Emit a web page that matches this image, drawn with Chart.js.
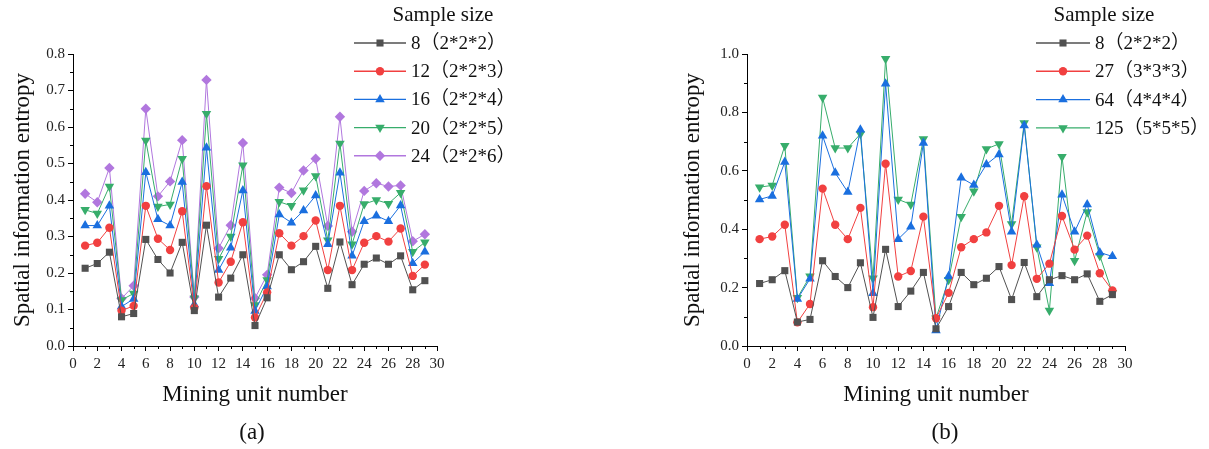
<!DOCTYPE html>
<html><head><meta charset="utf-8">
<script src="https://cdn.jsdelivr.net/npm/chart.js@4.4.1/dist/chart.umd.min.js"></script>
<style>
html,body{margin:0;padding:0;background:#fff;}
#wrap{position:relative;width:1209px;height:449px;overflow:hidden;}
#ca{position:absolute;left:0;top:0;}
#cb{position:absolute;left:620px;top:0;}
</style></head><body>
<div id="wrap">
<canvas id="ca" width="620" height="449"></canvas>
<canvas id="cb" width="589" height="449"></canvas>
</div>
<script>
// ---------- data ----------
const units = [1,2,3,4,5,6,7,8,9,10,11,12,13,14,15,16,17,18,19,20,21,22,23,24,25,26,27,28,29];

const labelsA = ['8\uFF082*2*2\uFF09','12\uFF082*2*3\uFF09','16\uFF082*2*4\uFF09','20\uFF082*2*5\uFF09','24\uFF082*2*6\uFF09'];
const a8  = [0.213,0.226,0.257,0.080,0.089,0.292,0.237,0.200,0.284,0.097,0.331,0.134,0.186,0.250,0.056,0.132,0.250,0.209,0.231,0.273,0.158,0.285,0.168,0.224,0.241,0.224,0.247,0.154,0.179];
const a12 = [0.275,0.283,0.324,0.097,0.110,0.384,0.294,0.263,0.369,0.105,0.438,0.174,0.231,0.339,0.078,0.147,0.309,0.275,0.301,0.344,0.208,0.384,0.208,0.283,0.301,0.286,0.322,0.192,0.223];
const a16 = [0.330,0.330,0.384,0.108,0.129,0.476,0.347,0.330,0.449,0.114,0.543,0.208,0.269,0.426,0.096,0.163,0.360,0.338,0.371,0.412,0.279,0.475,0.247,0.342,0.357,0.342,0.385,0.227,0.258];
const a20 = [0.373,0.363,0.437,0.126,0.144,0.563,0.382,0.388,0.513,0.131,0.636,0.239,0.300,0.495,0.112,0.181,0.395,0.384,0.427,0.466,0.290,0.555,0.279,0.389,0.400,0.390,0.420,0.258,0.284];
const a24 = [0.417,0.394,0.488,0.130,0.165,0.650,0.410,0.451,0.564,0.134,0.729,0.268,0.331,0.556,0.131,0.195,0.434,0.419,0.481,0.513,0.329,0.628,0.313,0.425,0.446,0.437,0.440,0.287,0.306];

const labelsB = ['8\uFF082*2*2\uFF09','27\uFF083*3*3\uFF09','64\uFF084*4*4\uFF09','125\uFF085*5*5\uFF09'];
const b8   = [0.214,0.227,0.258,0.082,0.091,0.292,0.238,0.200,0.285,0.098,0.331,0.135,0.188,0.252,0.059,0.135,0.252,0.210,0.232,0.272,0.159,0.286,0.169,0.227,0.241,0.227,0.247,0.153,0.176];
const b27  = [0.366,0.375,0.415,0.081,0.144,0.539,0.415,0.366,0.473,0.133,0.624,0.238,0.257,0.443,0.095,0.182,0.338,0.366,0.389,0.480,0.277,0.513,0.230,0.282,0.445,0.330,0.378,0.249,0.190];
const b64  = [0.502,0.514,0.630,0.161,0.230,0.720,0.593,0.527,0.741,0.181,0.898,0.366,0.408,0.695,0.053,0.239,0.576,0.551,0.622,0.656,0.391,0.755,0.347,0.215,0.518,0.391,0.485,0.320,0.307];
const b125 = [0.544,0.550,0.686,0.165,0.239,0.851,0.678,0.678,0.726,0.232,0.984,0.502,0.485,0.709,0.095,0.227,0.443,0.530,0.675,0.692,0.418,0.764,0.338,0.122,0.648,0.292,0.459,0.309,0.182];

const xTickLabels = ['0','2','4','6','8','10','12','14','16','18','20','22','24','26','28','30'];
const yTickLabelsA = ['0.0','0.1','0.2','0.3','0.4','0.5','0.6','0.7','0.8'];
const yTickLabelsB = ['0.0','0.2','0.4','0.6','0.8','1.0'];

const legendTitle = 'Sample size';
const xTitle = 'Mining unit number';
const yTitle = 'Spatial information entropy';

// ---------- styling ----------
const COLORS = ['#515151','#F14040','#1A6FDF','#37AD6B','#B177DE'];
const SERIF = "'Liberation Serif', 'Noto Sans CJK SC', serif";
Chart.defaults.font.family = SERIF;
Chart.defaults.color = '#222';

const STYLES = [
  {pointStyle:'rect', rot:0, r:5},
  {pointStyle:'circle', rot:0, r:4.2},
  {pointStyle:'triangle', rot:0, r:5.5},
  {pointStyle:'triangle', rot:180, r:5.5},
  {pointStyle:'rectRot', rot:0, r:5.2}
];

function mkDataset(label, vals, idx){
  const c = COLORS[idx], s = STYLES[idx];
  return {
    label, data: units.map((u,i)=>({x:u, y:vals[i]})),
    borderColor:c, backgroundColor:c, pointBackgroundColor:c, pointBorderColor:c,
    pointStyle:s.pointStyle, pointRotation:s.rot, pointRadius:s.r, pointHoverRadius:s.r,
    pointBorderWidth:0, borderWidth:1, tension:0
  };
}

const extras = {
  id:'extras',
  afterDraw(chart, args, o){
    const ctx = chart.ctx, xs = chart.scales.x, ys = chart.scales.y;
    ctx.save();
    ctx.strokeStyle = '#000'; ctx.lineWidth = 1;
    // minor ticks
    ctx.beginPath();
    for (const v of o.xMinor){
      const px = Math.round(xs.getPixelForValue(v)) + 0.5;
      ctx.moveTo(px, xs.top); ctx.lineTo(px, xs.top + 3);
    }
    for (const v of o.yMinor){
      const py = Math.round(ys.getPixelForValue(v)) + 0.5;
      ctx.moveTo(ys.right, py); ctx.lineTo(ys.right - 3, py);
    }
    ctx.stroke();
    // legend
    const L = o.legend;
    ctx.fillStyle = '#111';
    ctx.textBaseline = 'middle';
    ctx.textAlign = 'center';
    ctx.font = "21px " + SERIF;
    ctx.fillText(legendTitle, L.titleX, L.titleY);
    ctx.textAlign = 'left';
    ctx.font = "19px " + SERIF;
    chart.data.datasets.forEach((ds, i) => {
      const y = L.y0 + i * L.dy;
      ctx.strokeStyle = ds.borderColor; ctx.lineWidth = 1.4;
      ctx.beginPath(); ctx.moveTo(L.x1, y); ctx.lineTo(L.x2, y); ctx.stroke();
      ctx.fillStyle = ds.pointBackgroundColor; ctx.strokeStyle = ds.pointBorderColor;
      Chart.helpers.drawPoint(ctx, {pointStyle: ds.pointStyle, rotation: ds.pointRotation, radius: ds.pointRadius, borderWidth: 0}, (L.x1 + L.x2) / 2, y);
      ctx.fillStyle = '#111';
      ctx.fillText(ds.label, L.textX, y + 1);
    });
    // panel label
    ctx.textAlign = 'center';
    ctx.font = "23px " + SERIF;
    ctx.fillText(o.panel.text, o.panel.x, o.panel.y);
    ctx.restore();
  }
};

function buildChart(canvas, datasets, cfg){
  return new Chart(canvas, {
    type:'line',
    data:{datasets},
    plugins:[extras],
    options:{
      responsive:false, animation:false, events:[],
      layout:{padding:{left:0, right:cfg.padRight, top:54, bottom:0}},
      plugins:{legend:{display:false}, tooltip:{enabled:false}, extras:cfg.extras},
      scales:{
        x:{
          type:'linear', min:0, max:30,
          afterFit:(s)=>{ s.height = 103; },
          afterBuildTicks:(s)=>{ s.ticks = xTickLabels.map(t=>({value:Number(t)})); },
          ticks:{autoSkip:false, maxRotation:0, padding:4, font:{size:15}, color:'#222',
                 callback:(v)=>xTickLabels.find(t=>Number(t)===v) ?? ''},
          grid:{drawOnChartArea:false, drawTicks:true, tickLength:5, tickColor:'#000', color:'#000'},
          border:{display:true, color:'#000', width:1},
          title:{display:true, text:xTitle, font:{size:23}, color:'#111', padding:{top:0, bottom:40}}
        },
        y:{
          type:'linear', min:0, max:cfg.yMax,
          afterFit:(s)=>{ s.width = cfg.yWidth; },
          afterBuildTicks:(s)=>{ s.ticks = cfg.yLabels.map(t=>({value:Number(t)})); },
          ticks:{autoSkip:false, padding:3, font:{size:15}, color:'#222',
                 callback:(v)=>cfg.yLabels.find(t=>Math.abs(Number(t)-v)<1e-9) ?? ''},
          grid:{drawOnChartArea:false, drawTicks:true, tickLength:5, tickColor:'#000', color:'#000'},
          border:{display:true, color:'#000', width:1},
          title:{display:true, text:yTitle, font:{size:23}, color:'#111', padding:{top:cfg.yTitlePad, bottom:0}}
        }
      }
    }
  });
}

const xMinor = [1,3,5,7,9,11,13,15,17,19,21,23,25,27,29];

buildChart(document.getElementById('ca'),
  [mkDataset(labelsA[0],a8,0), mkDataset(labelsA[1],a12,1), mkDataset(labelsA[2],a16,2), mkDataset(labelsA[3],a20,3), mkDataset(labelsA[4],a24,4)],
  {padRight:620-437, yMax:0.8, yWidth:73, yLabels:yTickLabelsA, yTitlePad:9,
   extras:{xMinor, yMinor:[0.05,0.15,0.25,0.35,0.45,0.55,0.65,0.75],
     legend:{x1:354, x2:406, textX:411, y0:43, dy:28.2, titleX:443, titleY:15},
     panel:{text:'(a)', x:252, y:433}}});

buildChart(document.getElementById('cb'),
  [mkDataset(labelsB[0],b8,0), mkDataset(labelsB[1],b27,1), mkDataset(labelsB[2],b64,2), mkDataset(labelsB[3],b125,3)],
  {padRight:589-505, yMax:1.0, yWidth:127, yLabels:yTickLabelsB, yTitlePad:59,
   extras:{xMinor, yMinor:[0.1,0.3,0.5,0.7,0.9],
     legend:{x1:416, x2:470, textX:475, y0:43, dy:28.3, titleX:484, titleY:15},
     panel:{text:'(b)', x:325, y:433}}});
</script>
</body></html>
